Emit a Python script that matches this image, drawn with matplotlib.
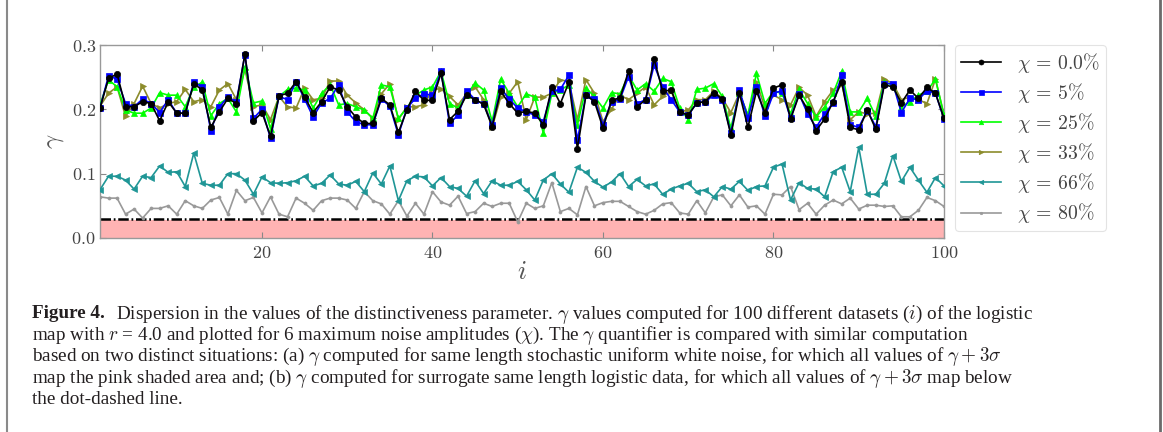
import numpy as np
import matplotlib
matplotlib.use("Agg")
import matplotlib.pyplot as plt
from matplotlib.lines import Line2D
from matplotlib.ticker import FuncFormatter, FixedLocator

plt.rcParams['mathtext.fontset'] = 'cm'
plt.rcParams['font.family'] = ['Liberation Serif', 'DejaVu Serif']

# ---------------- data ----------------
dataset_index = list(range(1, 101))

gamma_chi_0 = [0.202, 0.248, 0.255, 0.204, 0.204, 0.212, 0.209, 0.182, 0.212, 0.194,
               0.194, 0.240, 0.230, 0.172, 0.196, 0.217, 0.209, 0.286, 0.182, 0.195,
               0.158, 0.221, 0.225, 0.243, 0.219, 0.195, 0.212, 0.235, 0.230, 0.204,
               0.188, 0.178, 0.178, 0.217, 0.207, 0.164, 0.199, 0.228, 0.214, 0.214,
               0.256, 0.184, 0.197, 0.222, 0.215, 0.208, 0.173, 0.228, 0.209, 0.194,
               0.197, 0.194, 0.176, 0.235, 0.209, 0.242, 0.139, 0.222, 0.212, 0.171,
               0.214, 0.218, 0.259, 0.204, 0.215, 0.278, 0.228, 0.230, 0.196, 0.191,
               0.210, 0.212, 0.226, 0.216, 0.160, 0.225, 0.172, 0.228, 0.195, 0.233,
               0.238, 0.185, 0.222, 0.200, 0.167, 0.185, 0.212, 0.243, 0.172, 0.168,
               0.199, 0.169, 0.238, 0.235, 0.210, 0.230, 0.217, 0.234, 0.225, 0.186]

gamma_chi_5 = [0.202, 0.252, 0.247, 0.209, 0.204, 0.216, 0.209, 0.195, 0.215, 0.194,
               0.194, 0.242, 0.235, 0.167, 0.204, 0.219, 0.212, 0.285, 0.186, 0.200,
               0.155, 0.220, 0.215, 0.243, 0.216, 0.188, 0.210, 0.217, 0.238, 0.196,
               0.181, 0.176, 0.176, 0.216, 0.205, 0.160, 0.202, 0.217, 0.224, 0.222,
               0.259, 0.178, 0.191, 0.229, 0.215, 0.208, 0.176, 0.233, 0.216, 0.202,
               0.196, 0.191, 0.181, 0.228, 0.231, 0.253, 0.152, 0.222, 0.216, 0.176,
               0.212, 0.216, 0.251, 0.209, 0.215, 0.269, 0.235, 0.215, 0.196, 0.191,
               0.210, 0.212, 0.222, 0.215, 0.163, 0.230, 0.186, 0.235, 0.189, 0.225,
               0.229, 0.186, 0.224, 0.193, 0.172, 0.193, 0.210, 0.253, 0.176, 0.172,
               0.198, 0.173, 0.240, 0.240, 0.195, 0.217, 0.215, 0.229, 0.225, 0.185]

gamma_chi_25 = [0.207, 0.246, 0.235, 0.199, 0.194, 0.194, 0.202, 0.226, 0.222, 0.222,
                0.204, 0.235, 0.242, 0.190, 0.209, 0.217, 0.196, 0.266, 0.210, 0.213,
                0.170, 0.220, 0.231, 0.233, 0.230, 0.202, 0.225, 0.238, 0.207, 0.209,
                0.204, 0.199, 0.186, 0.238, 0.235, 0.186, 0.202, 0.222, 0.230, 0.235,
                0.259, 0.209, 0.202, 0.222, 0.241, 0.230, 0.181, 0.247, 0.225, 0.204,
                0.224, 0.219, 0.163, 0.225, 0.230, 0.238, 0.176, 0.233, 0.220, 0.202,
                0.226, 0.224, 0.253, 0.230, 0.240, 0.228, 0.248, 0.243, 0.202, 0.184,
                0.231, 0.233, 0.240, 0.220, 0.171, 0.225, 0.191, 0.256, 0.209, 0.228,
                0.225, 0.193, 0.231, 0.209, 0.188, 0.204, 0.225, 0.259, 0.196, 0.196,
                0.217, 0.189, 0.242, 0.238, 0.204, 0.212, 0.222, 0.228, 0.247, 0.191]

gamma_chi_33 = [0.205, 0.225, 0.235, 0.189, 0.209, 0.236, 0.209, 0.202, 0.209, 0.212,
                0.231, 0.212, 0.215, 0.204, 0.230, 0.240, 0.215, 0.262, 0.204, 0.207,
                0.184, 0.220, 0.204, 0.202, 0.233, 0.215, 0.217, 0.244, 0.244, 0.222,
                0.210, 0.199, 0.186, 0.224, 0.240, 0.184, 0.204, 0.204, 0.207, 0.231,
                0.232, 0.220, 0.207, 0.224, 0.235, 0.215, 0.172, 0.219, 0.225, 0.243,
                0.184, 0.219, 0.219, 0.225, 0.246, 0.243, 0.184, 0.246, 0.225, 0.181,
                0.200, 0.222, 0.215, 0.225, 0.235, 0.207, 0.220, 0.228, 0.196, 0.199,
                0.215, 0.215, 0.228, 0.217, 0.195, 0.225, 0.191, 0.243, 0.202, 0.222,
                0.215, 0.207, 0.234, 0.222, 0.189, 0.212, 0.230, 0.240, 0.184, 0.196,
                0.193, 0.194, 0.247, 0.240, 0.215, 0.219, 0.215, 0.209, 0.247, 0.191]

gamma_chi_66 = [0.075, 0.096, 0.096, 0.090, 0.076, 0.096, 0.094, 0.112, 0.102, 0.103,
                0.080, 0.132, 0.085, 0.082, 0.082, 0.100, 0.100, 0.090, 0.068, 0.095,
                0.086, 0.085, 0.086, 0.089, 0.096, 0.081, 0.085, 0.098, 0.084, 0.082,
                0.088, 0.072, 0.101, 0.084, 0.112, 0.058, 0.089, 0.096, 0.095, 0.081,
                0.094, 0.080, 0.077, 0.065, 0.089, 0.069, 0.089, 0.082, 0.082, 0.088,
                0.075, 0.059, 0.090, 0.100, 0.084, 0.071, 0.110, 0.102, 0.088, 0.079,
                0.087, 0.100, 0.080, 0.091, 0.081, 0.084, 0.068, 0.076, 0.081, 0.085,
                0.072, 0.075, 0.064, 0.080, 0.076, 0.088, 0.074, 0.080, 0.081, 0.110,
                0.115, 0.059, 0.086, 0.077, 0.076, 0.064, 0.103, 0.110, 0.072, 0.141,
                0.068, 0.068, 0.085, 0.128, 0.088, 0.110, 0.090, 0.071, 0.094, 0.081]

gamma_chi_80 = [0.064, 0.062, 0.062, 0.037, 0.045, 0.031, 0.046, 0.046, 0.050, 0.037,
                0.058, 0.050, 0.046, 0.059, 0.063, 0.037, 0.074, 0.058, 0.063, 0.039,
                0.064, 0.037, 0.033, 0.062, 0.054, 0.043, 0.058, 0.062, 0.062, 0.059,
                0.046, 0.072, 0.058, 0.053, 0.037, 0.058, 0.034, 0.054, 0.037, 0.072,
                0.056, 0.051, 0.065, 0.038, 0.041, 0.054, 0.049, 0.054, 0.054, 0.025,
                0.054, 0.046, 0.050, 0.086, 0.041, 0.046, 0.036, 0.080, 0.050, 0.055,
                0.057, 0.057, 0.049, 0.041, 0.037, 0.043, 0.053, 0.055, 0.039, 0.037,
                0.058, 0.039, 0.064, 0.067, 0.050, 0.067, 0.048, 0.050, 0.037, 0.068,
                0.067, 0.080, 0.044, 0.054, 0.037, 0.051, 0.059, 0.053, 0.062, 0.045,
                0.051, 0.051, 0.049, 0.050, 0.033, 0.033, 0.043, 0.063, 0.058, 0.049]

series_labels = [r'$\chi\,=\,0.0\%$', r'$\chi\,=\,5\%$', r'$\chi\,=\,25\%$',
                 r'$\chi\,=\,33\%$', r'$\chi\,=\,66\%$', r'$\chi\,=\,80\%$']

noise_threshold = 0.028       # gamma + 3 sigma, uniform white noise (pink area)
surrogate_threshold = 0.030   # gamma + 3 sigma, surrogate logistic data (dot-dashed)

x_ticks = [20, 40, 60, 80, 100]
y_ticks = [0.0, 0.1, 0.2, 0.3]

# ---------------- styles ----------------
styles = [
    dict(color='black', marker='o', ms=4.5, z=9),
    dict(color='#0000ff', marker='s', ms=4.5, z=8),
    dict(color='#00ff00', marker='^', ms=4, z=7),
    dict(color='#8c8c2c', marker='>', ms=4, z=6),
    dict(color='#1f9696', marker='<', ms=4, z=5),
    dict(color='#999999', marker='o', ms=2.2, z=4),
]

fig = plt.figure(figsize=(11.63, 4.32), dpi=100)
ax = fig.add_axes([100/1163, 1-238/432, (944-100)/1163, (238-45)/432])

x = np.array(dataset_index)
ax.fill_between(x, 0, noise_threshold, color='#ffb3b3', lw=0, zorder=1)
ax.axhline(surrogate_threshold, color='black', lw=1.8,
           linestyle=(0, (4.2, 1.1, 0.7, 1.1)), zorder=2)

all_series = [gamma_chi_0, gamma_chi_5, gamma_chi_25, gamma_chi_33,
              gamma_chi_66, gamma_chi_80]
handles = []
for vals, lab, st in zip(all_series, series_labels, styles):
    h, = ax.plot(x, vals, color=st['color'], marker=st['marker'],
                 markersize=st['ms'], lw=1.2, label=lab, zorder=st['z'],
                 markeredgewidth=0.5)
    handles.append(h)

ax.set_xlim(dataset_index[0], dataset_index[-1])
ax.set_ylim(y_ticks[0], y_ticks[-1])
ax.xaxis.set_major_locator(FixedLocator(x_ticks))
ax.yaxis.set_major_locator(FixedLocator(y_ticks))
ax.xaxis.set_major_formatter(FuncFormatter(lambda v, p: r'$%d$' % v))
ax.yaxis.set_major_formatter(FuncFormatter(lambda v, p: r'$%.1f$' % v))
ax.tick_params(direction='in', top=True, right=True, length=4, width=0.8,
               color='#888888', labelsize=13, labelcolor='#444444', pad=3)
ax.tick_params(axis='x', pad=5)
for sp in ax.spines.values():
    sp.set_color('#999999')
    sp.set_linewidth(1.0)

ax.set_ylabel(r'$\gamma$', fontsize=18, color='#555555')
ax.yaxis.set_label_coords(-0.040, 0.5)
ax.set_xlabel(r'$i$', fontsize=19, color='#555555', labelpad=0)

leg = fig.legend(handles=handles, loc='upper left',
                 bbox_to_anchor=(955/1163, 1-45/432),
                 bbox_transform=fig.transFigure, borderaxespad=0,
                 fontsize=14.2, frameon=True, fancybox=True,
                 handlelength=2.05, handletextpad=0.8, labelspacing=0.31,
                 borderpad=0.3, markerscale=0.8)
leg.get_frame().set_edgecolor('#dddddd')
leg.get_frame().set_linewidth(0.8)
for t in leg.get_texts():
    t.set_color('#444444')

# ---------------- caption ----------------
cap_size = 13.8
cap_color = '#231f20'
line_y = [314, 335.5, 357, 378.5, 400]
left_x = 32 / 1163
bold = fig.text(left_x, 1 - line_y[0]/432, 'Figure 4.', fontsize=cap_size,
                fontweight='bold', color=cap_color, va='center', ha='left')
ax.annotate(r'Dispersion in the values of the distinctiveness parameter. $\gamma$ values computed '
            r'for 100 different datasets ($i$) of the logistic',
            xy=(1, 0.5), xycoords=bold, xytext=(8, 0), textcoords='offset points',
            fontsize=cap_size, color=cap_color, va='center', ha='left',
            annotation_clip=False)
rest = [
    r'map with $r$ = 4.0 and plotted for 6 maximum noise amplitudes ($\chi$). The $\gamma$ quantifier is compared with similar computation',
    r'based on two distinct situations: (a) $\gamma$ computed for same length stochastic uniform white noise, for which all values of $\gamma + 3\sigma$',
    r'map the pink shaded area and; (b) $\gamma$ computed for surrogate same length logistic data, for which all values of $\gamma + 3\sigma$ map below',
    r'the dot-dashed line.',
]
for yy, s in zip(line_y[1:], rest):
    fig.text(left_x, 1 - yy/432, s, fontsize=cap_size, color=cap_color,
             va='center', ha='left')

# outer frame of the figure panel
fig.add_artist(Line2D([7/1163, 7/1163], [0, 1], transform=fig.transFigure,
                      color='#8a8a8a', lw=1.5))
fig.add_artist(Line2D([1160/1163, 1160/1163], [0, 1], transform=fig.transFigure,
                      color='#6a6a6a', lw=2.0))

fig.savefig('out.png', dpi=100)
